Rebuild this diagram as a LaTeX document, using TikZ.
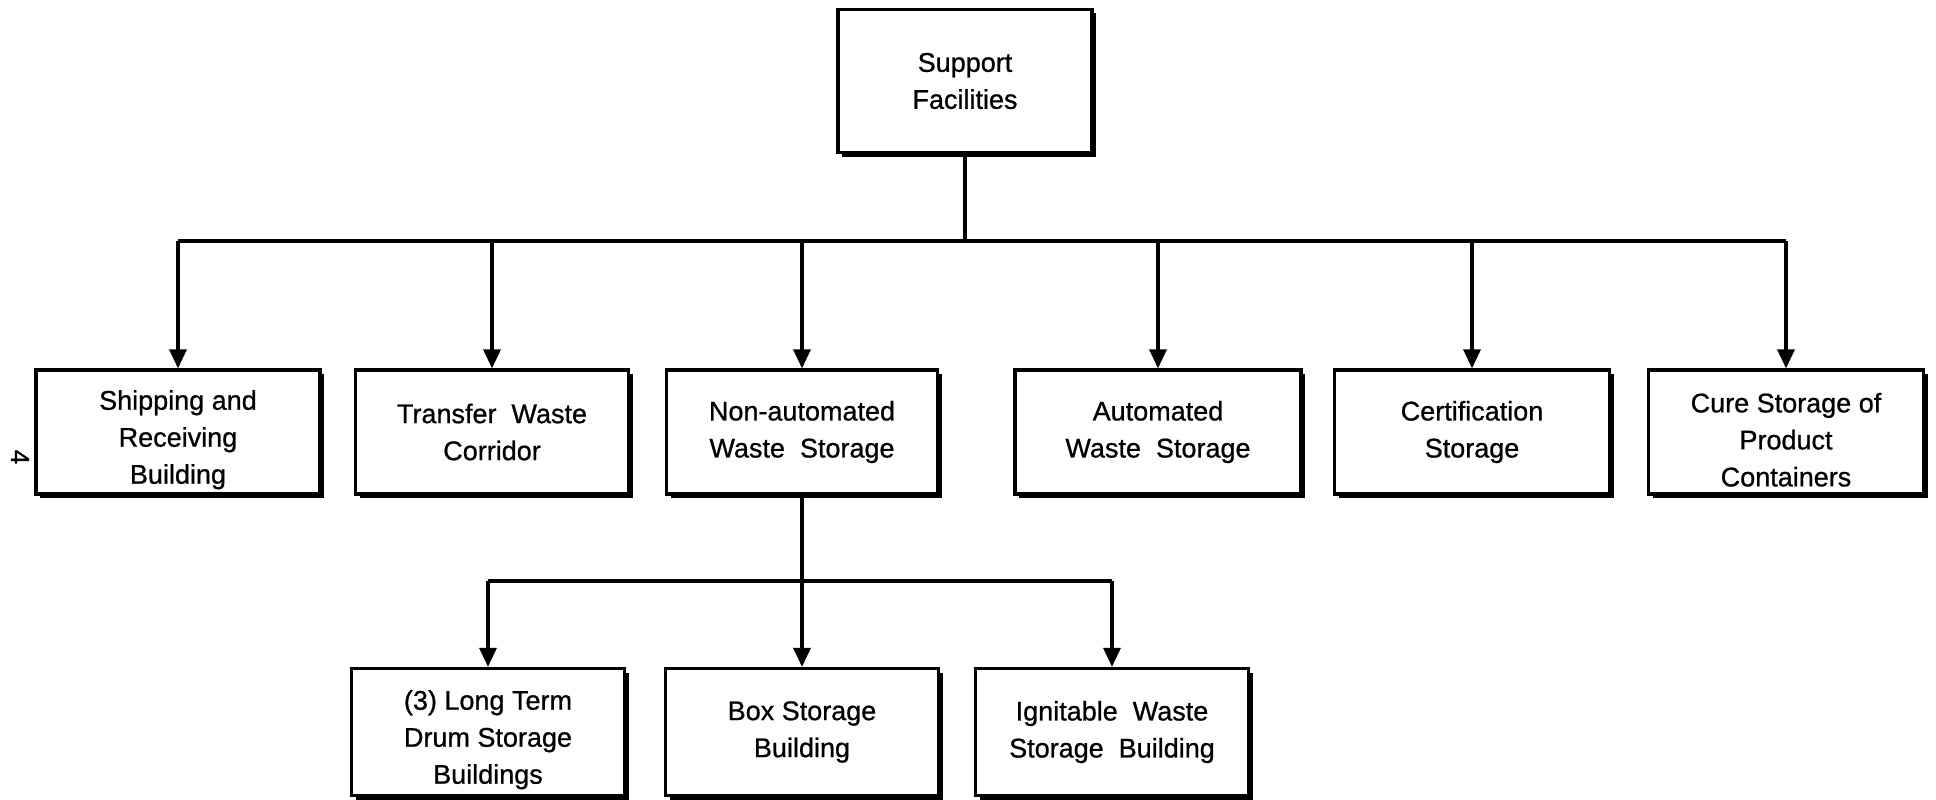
\documentclass[tikz,border=0pt]{standalone}
\usepackage{fontspec}
\setmainfont{Liberation Sans}[BoldFont={Liberation Sans},BoldFeatures={FakeBold=0.8}]
\usetikzlibrary{arrows.meta,shadows}
\newcommand\mydn{\rule{0pt}{35pt}}
\begin{document}
\begin{tikzpicture}[x=1pt,y=-1pt,
  box/.style={draw, line width=3.2pt, fill=white, align=center, inner sep=0pt,
    font=\fontsize{27}{37}\selectfont\bfseries,
    drop shadow={shadow xshift=4pt, shadow yshift=-4pt, fill=black, opacity=1}},
  conn/.style={line width=3.2pt},
  arr/.style={conn, -{Triangle[width=17pt,length=19pt]}}]
\useasboundingbox (0,0) rectangle (1936,800);

\node[box, minimum width=254pt, minimum height=143pt] (top) at (965,81) {Support\\Facilities};

\tikzset{r2/.style={box, minimum height=124pt}}
\node[r2, minimum width=284pt] (s1) at (178,432) {\mydn Shipping and\\Receiving\\Building};
\node[r2, minimum width=273pt] (s2) at (492,432) {Transfer\ \ Waste\\Corridor};
\node[r2, minimum width=271pt] (s3) at (802,432) {Non-automated\\Waste\ \ Storage};
\node[r2, minimum width=286pt] (s4) at (1158,432) {Automated\\Waste\ \ Storage};
\node[r2, minimum width=275pt] (s5) at (1472,432) {Certification\\Storage};
\node[r2, minimum width=275pt] (s6) at (1786,432) {\mydn Cure\ Storage\ of\\Product\\Containers};

\tikzset{r3/.style={box, minimum height=127pt, minimum width=273pt}}
\node[r3] (t1) at (488,732) {\mydn (3) Long Term\\Drum Storage\\Buildings};
\node[r3] (t2) at (802,732) {Box Storage\\Building};
\node[r3] (t3) at (1112,732) {Ignitable\ \ Waste\\Storage\ \ Building};

\node[rotate=-90, font=\fontsize{26}{26}\selectfont\bfseries] (pg) at (20,457) {4};

\coordinate (bus) at (965,241);
\draw[conn] (top.south) -- (bus);
\draw[conn] (bus -| s1.north) -- (bus -| s6.north);
\foreach \n in {s1,s2,s3,s4,s5,s6}
  \draw[arr] (bus -| \n.north) -- (\n.north);

\coordinate (sub) at (802,581);
\draw[conn] (s3.south) -- (sub);
\draw[conn] (sub -| t1.north) -- (sub -| t3.north);
\foreach \n in {t1,t2,t3}
  \draw[arr] (sub -| \n.north) -- (\n.north);
\end{tikzpicture}
\end{document}
